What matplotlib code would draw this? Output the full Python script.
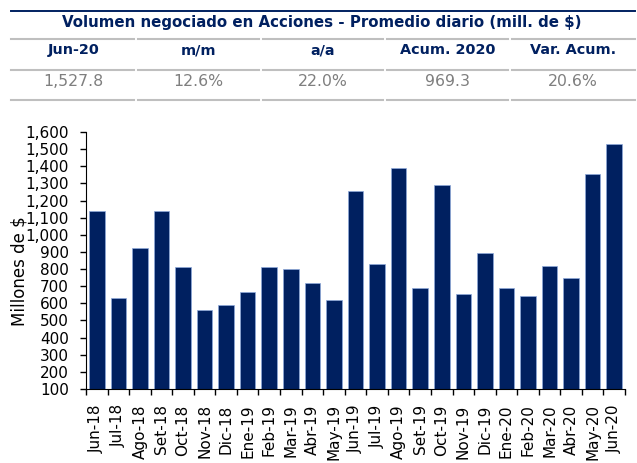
import matplotlib.pyplot as plt
import numpy as np

# Datos del gráfico
meses = ["Jun-18", "Jul-18", "Ago-18", "Set-18", "Oct-18", "Nov-18", "Dic-18",
         "Ene-19", "Feb-19", "Mar-19", "Abr-19", "May-19", "Jun-19", "Jul-19",
         "Ago-19", "Set-19", "Oct-19", "Nov-19", "Dic-19", "Ene-20", "Feb-20",
         "Mar-20", "Abr-20", "May-20", "Jun-20"]
volumen = [1141, 629, 923, 1141, 810, 561, 592, 666, 810, 802, 719, 621,
           1254, 831, 1388, 688, 1291, 653, 892, 688, 645, 818, 750, 1357, 1527.8]

# Tabla resumen
titulo = "Volumen negociado en Acciones - Promedio diario (mill. de $)"
encabezados = ["Jun-20", "m/m", "a/a", "Acum. 2020", "Var. Acum."]
valores = ["1,527.8", "12.6%", "22.0%", "969.3", "20.6%"]

azul = "#002060"
gris_linea = "#bfbfbf"
gris_texto = "#7f7f7f"

plt.rcParams["font.family"] = "DejaVu Sans"

fig = plt.figure(figsize=(6.37, 4.63), dpi=100)
W, H = 637, 463

def fx(px):
    return px / W

def fy(py):
    return 1 - py / H

# Tabla superior
fig.add_artist(plt.Line2D([fx(11), fx(635)], [fy(11), fy(11)], color=azul, lw=1.4))
fig.text(fx(322), fy(22), titulo, ha="center", va="center", color=azul,
         fontsize=10.8, fontweight="bold")

x0, x1 = 11, 635
ancho = (x1 - x0) / 5
for i in range(5):
    a = x0 + i * ancho + (2 if i > 0 else 0)
    b = x0 + (i + 1) * ancho - (2 if i < 4 else 0)
    for yl in (39, 70, 100):
        fig.add_artist(plt.Line2D([fx(a), fx(b)], [fy(yl), fy(yl)],
                                  color=gris_linea, lw=1.5))
    cx = x0 + (i + 0.5) * ancho
    fig.text(fx(cx), fy(50), encabezados[i], ha="center", va="center",
             color=azul, fontsize=10.4, fontweight="bold")
    fig.text(fx(cx), fy(82), valores[i], ha="center", va="center",
             color=gris_texto, fontsize=11.3)

# Gráfico de barras
ax = fig.add_axes([fx(86), fy(389), fx(625) - fx(86), fy(132) - fy(389)])
x = np.arange(len(meses))
ax.bar(x, volumen, width=0.72, color=azul, edgecolor="#8ea9db", linewidth=0.5)

ax.set_xlim(-0.5, len(meses) - 0.5)
ax.set_ylim(100, 1600)
ax.set_yticks(np.arange(100, 1601, 100))
ax.set_yticklabels([f"{v:,}" for v in range(100, 1601, 100)], fontsize=11)
ax.set_xticks(x)
ax.set_xticklabels(meses, rotation=90, fontsize=11)
ax.tick_params(axis="x", which="major", length=0, pad=11)
ax.set_xticks(np.arange(-0.5, len(meses), 1), minor=True)
ax.tick_params(axis="x", which="minor", length=4.5, width=1)
ax.tick_params(axis="y", length=4.3, width=1, pad=8)

ax.spines["top"].set_visible(False)
ax.spines["right"].set_visible(False)
fig.text(fx(20), fy(271), "Millones de $", rotation=90, ha="center",
         va="center", fontsize=12)

fig.savefig("out.png", dpi=100)
